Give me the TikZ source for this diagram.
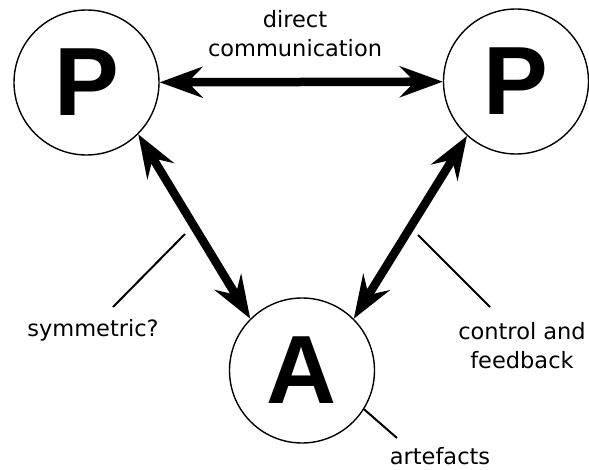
\documentclass[tikz,border=0pt]{standalone}
\usepackage{fontspec}
\setmainfont{DejaVu Sans}
\newfontfamily\bigletter{Liberation Sans}
\usetikzlibrary{arrows.meta,positioning}

\begin{document}
\begin{tikzpicture}[x=1pt,y=-1pt,
    >={Stealth[length=43pt,width=31pt,inset=15pt]},
    actor/.style={
      draw,circle,
      line width=1.4pt,
      minimum size=145pt,
      inner sep=0pt,
      font=\bigletter\bfseries\fontsize{97}{97}\selectfont
    },
    link/.style={<->,line width=8.5pt},
    note/.style={align=center,font=\fontsize{22.5}{29}\selectfont},
    pointer/.style={line width=2pt},
  ]
  \useasboundingbox (0,0) rectangle (589,470);

  \node[actor] (pleft) at (86.5,82.5) {P};
  \node[actor] (pright) at (516,81.5) {P};
  \node[actor] (art) at (302,370.5) {A};

  \node[note] (direct) at (295,34) {direct\\communication};
  \node[note] (sym) at (93,330) {symmetric?};
  \node[note] (ctrl) at (522,346) {control and\\feedback};
  \node[note,inner sep=0pt,anchor=base] (artlabel) at (440,464) {artefacts};

  \coordinate (symtop) at (185,234);
  \coordinate (symend) at (113,307);
  \coordinate (ctrltop) at (418,235);
  \coordinate (ctrlend) at (490,307);
  \coordinate (artend) at (397,438);

  \draw[link] (pleft) -- (pright);
  \draw[link] (pleft.-45) -- (art.135);
  \draw[link] (pright.228) -- (art.45);

  \draw[pointer] (symtop) -- (symend);
  \draw[pointer] (ctrltop) -- (ctrlend);
  \draw[pointer] (art.-32) -- (artend);
\end{tikzpicture}
\end{document}
